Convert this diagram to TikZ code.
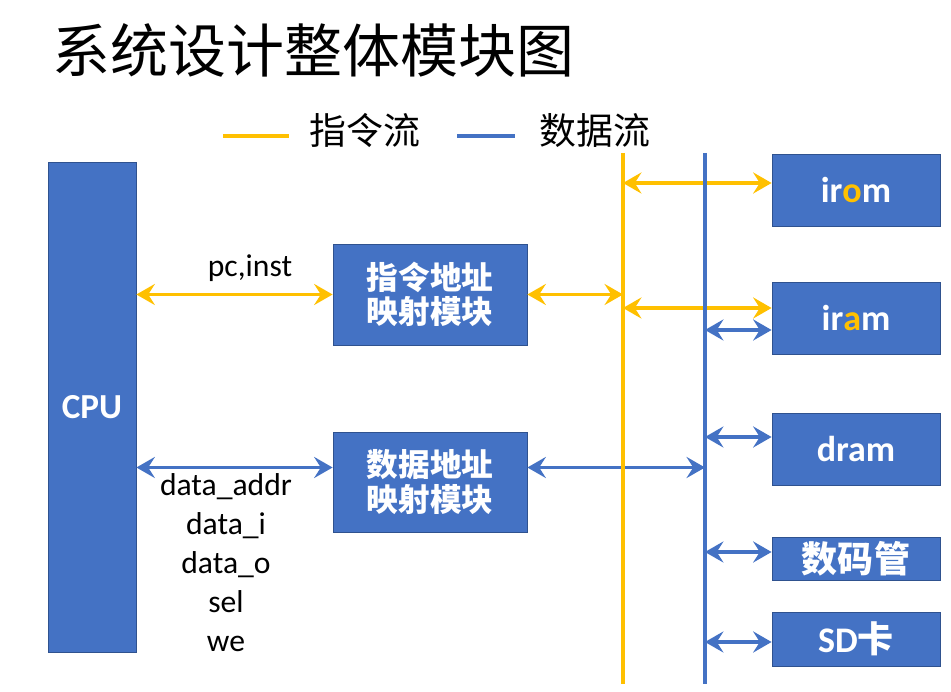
\documentclass[tikz,border=0pt]{standalone}
\usepackage{fontspec}
\setmainfont{Carlito}
\newfontfamily\cjk{Noto Sans CJK SC}
\usetikzlibrary{arrows.meta}

\definecolor{boxblue}{HTML}{4472C4}
\definecolor{flowyellow}{HTML}{FFC000}
\definecolor{boxedge}{HTML}{2F528F}

\begin{document}
\begin{tikzpicture}[x=0.02cm,y=-0.02cm,
  >={Stealth[length=10.5pt,width=12pt,inset=3.8pt]},
  block/.style={draw=boxedge,line width=0.5pt,fill=boxblue,text=white,align=center,inner sep=0pt},
  engbox/.style={block,minimum width=3.36cm,font=\bfseries\fontsize{20.5}{24}\selectfont},
  mapbox/.style={block,minimum width=3.88cm,font=\cjk\bfseries\fontsize{18}{19.5}\selectfont},
  inst/.style={flowyellow,line width=2pt,<->},
  dat/.style={boxblue,line width=2pt,<->},
  sig/.style={font=\fontsize{18}{22}\selectfont,anchor=base,inner sep=0pt},
  ]
\useasboundingbox (0,0) rectangle (951,692);

% title + legend
\node[anchor=west,inner sep=0pt,font=\cjk\fontsize{33}{36}\selectfont] (title) at (52,50) {系统设计整体模块图};

\coordinate (legI) at (223,136);
\coordinate (legD) at (457,136);
\draw[flowyellow,line width=2.3pt] (legI) -- ++(66,0);
\draw[boxblue,line width=2.3pt] (legD) -- ++(58,0);
\node[anchor=west,inner sep=0pt,font=\cjk\fontsize{21}{24}\selectfont] (legItxt) at (309,131) {指令流};
\node[anchor=west,inner sep=0pt,font=\cjk\fontsize{21}{24}\selectfont] (legDtxt) at (539,131) {数据流};

% blocks
\node[block,minimum width=1.76cm,minimum height=9.8cm,font=\bfseries\fontsize{20}{24}\selectfont] (cpu) at (92,407) {CPU};
\node[mapbox,minimum height=2.02cm] (imap) at (430,294.5) {指令地址\\映射模块};
\node[mapbox,minimum height=2.0cm] (dmap) at (430,482) {数据地址\\映射模块};

\node[engbox,minimum height=1.44cm] (irom) at (856,190) {ir{\color{flowyellow}o}m};
\node[engbox,minimum height=1.44cm] (iram) at (856,318) {ir{\color{flowyellow}a}m};
\node[engbox,minimum height=1.44cm] (dram) at (856,449) {dram};
\node[engbox,minimum height=0.86cm,font=\cjk\bfseries\fontsize{20.5}{24}\selectfont] (smg) at (856,558.5) {数码管};
\node[engbox,minimum height=1.08cm] (sd) at (856,639) {SD{\cjk 卡}};

% bus lines
\coordinate (ybusT) at (623,153);
\coordinate (ybusB) at (623,684);
\coordinate (dbusT) at (705,153);
\coordinate (dbusB) at (705,684);

% instruction flow
\draw[inst] (imap.west -| cpu.east) -- (imap.west);
\node[sig] (pcinst) at (250,277) {pc,inst};
\draw[inst] (imap.east) -- (imap.east -| ybusT);
\coordinate (yrom) at (623,183);
\coordinate (yram) at (623,308);
\draw[inst] (yrom) -- (yrom -| irom.west);
\draw[inst] (yram) -- (yram -| iram.west);

% data flow
\coordinate (dsig) at (430,467.5);
\draw[dat] (dsig -| cpu.east) -- (dsig -| dmap.west);
\draw[dat] (dsig -| dmap.east) -- (dsig -| dbusT);
\coordinate (dram1) at (705,330);
\coordinate (dram2) at (705,437);
\coordinate (dram3) at (705,552);
\coordinate (dram4) at (705,642);
\draw[dat] (dram1) -- (dram1 -| iram.west);
\draw[dat] (dram2) -- (dram2 -| dram.west);
\draw[dat] (dram3) -- (dram3 -| smg.west);
\draw[dat] (dram4) -- (dram4 -| sd.west);

\foreach \s [count=\i] in {data\_addr,data\_i,data\_o,sel,we}
  \node[sig] (sig\i) at (226,{496+38.8*(\i-1)}) {\s};

\draw[flowyellow,line width=2.4pt] (ybusT) -- (ybusB);
\draw[boxblue,line width=1.9pt] (dbusT) -- (dbusB);

\end{tikzpicture}
\end{document}
